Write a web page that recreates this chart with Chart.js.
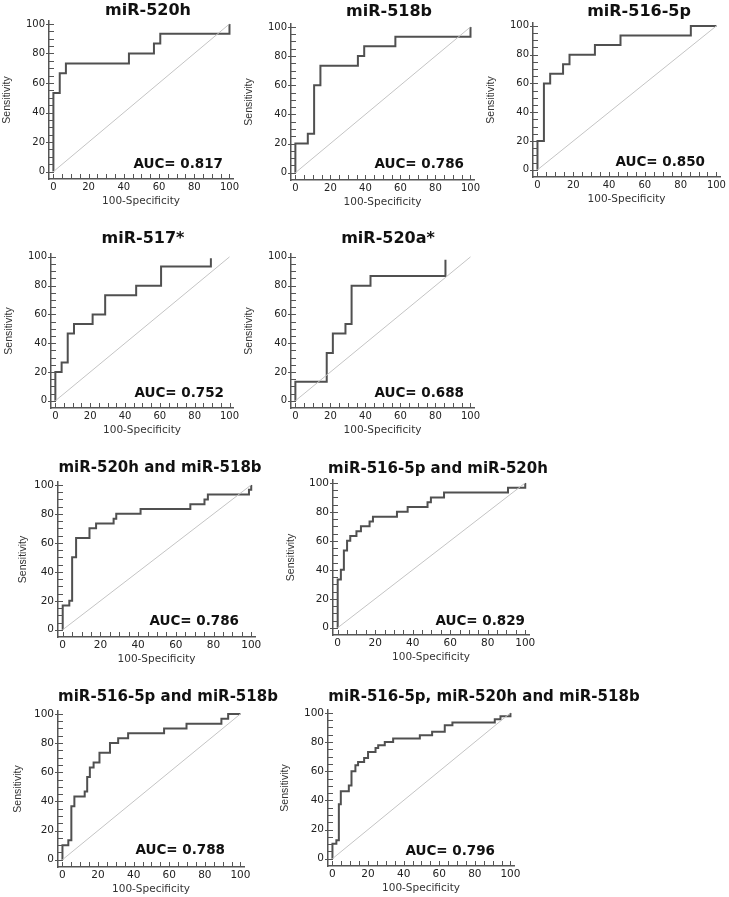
<!DOCTYPE html>
<html>
<head>
<meta charset="utf-8">
<style>
  html, body { margin: 0; padding: 0; background: #fff; overflow: hidden; }
  #page { position: relative; width: 729px; height: 897px; overflow: hidden; }
  #page canvas { position: absolute; }
</style>
</head>
<body>
<div id="page"></div>
<script src="https://cdn.jsdelivr.net/npm/chart.js@4.4.0/dist/chart.umd.min.js"></script>
<script>
// ---- data (100-Specificity, Sensitivity) ----
const tickLabels = [0, 20, 40, 60, 80, 100];
const diagX = [0, 100];
const diagY = [0, 100];

const panelTitles = ["miR-520h", "miR-518b", "miR-516-5p", "miR-517*", "miR-520a*",
  "miR-520h and miR-518b", "miR-516-5p and miR-520h",
  "miR-516-5p and miR-518b", "miR-516-5p, miR-520h and miR-518b"];
const aucLabels = ["AUC= 0.817", "AUC= 0.786", "AUC= 0.850", "AUC= 0.752", "AUC= 0.688",
  "AUC= 0.786", "AUC= 0.829", "AUC= 0.788", "AUC= 0.796"];

const spec520h = [0, 0, 3.6, 7.1, 42.9, 57.1, 60.7, 100];
const sens520h = [0, 53.3, 66.7, 73.3, 80, 86.7, 93.3, 100];

const spec518b = [0, 0, 7.1, 10.7, 14.3, 35.7, 39.3, 57.1, 100];
const sens518b = [0, 20, 26.7, 60, 73.3, 80, 86.7, 93.3, 100];

const spec516 = [0, 0, 3.6, 7.1, 14.3, 17.9, 32.1, 46.4, 85.7, 100];
const sens516 = [0, 20, 60, 66.7, 73.3, 80, 86.7, 93.3, 100, 100];

const spec517 = [0, 0, 3.6, 7.1, 10.7, 21.4, 28.6, 46.4, 60.7, 89.3];
const sens517 = [0, 20, 26.7, 46.7, 53.3, 60, 73.3, 80, 93.3, 99];

const spec520a = [0, 0, 17.9, 21.4, 28.6, 32.1, 42.9, 85.7];
const sens520a = [0, 13.3, 33.3, 46.7, 53.3, 80, 86.7, 98];

const specH18 = [0, 0, 3.5, 5, 7.1, 14.2, 17.7, 27, 28.4, 41.3, 67.7, 75.2, 77, 98.8, 100];
const sensH18 = [0, 16.7, 20, 50, 63.3, 70, 73.3, 76.7, 80, 83.3, 86.7, 90, 93.3, 96.7, 100];

const specS5H = [0, 0, 1.7, 3.3, 5, 6.7, 10, 12.4, 17, 18.8, 31.6, 37.3, 47.9, 49.7, 56.7, 90.8, 100];
const sensS5H = [0, 33.3, 40, 53.3, 60, 63.3, 66.7, 70, 73.3, 76.7, 80, 83.3, 86.7, 90, 93.3, 96.7, 100];

const specS18 = [0, 0, 3.3, 5, 6.7, 12.5, 13.9, 15.4, 17.5, 20.8, 26.7, 31.3, 36.9, 57.1, 69.7, 89.3, 93.1, 100];
const sensS18 = [0, 10, 13.3, 36.7, 43.3, 46.7, 56.7, 63.3, 66.7, 73.3, 80, 83.3, 86.7, 90, 93.3, 96.7, 100, 100];

const specAll = [0, 0, 2.2, 3.6, 4.7, 9.2, 10.7, 12.9, 14.4, 17.8, 20, 24.2, 25.7, 29.4, 34.1, 49.1, 56, 63.1, 67.4, 91.2, 94.4, 100];
const sensAll = [0, 10.3, 12.6, 37.3, 46.2, 50.3, 60, 64.1, 66.4, 69.1, 73.2, 76, 77.8, 80.1, 82.4, 84.7, 87, 91.5, 93.4, 95.7, 97.7, 100];

const curves = [
  [spec520h, sens520h], [spec518b, sens518b], [spec516, sens516],
  [spec517, sens517], [spec520a, sens520a],
  [specH18, sensH18], [specS5H, sensS5H],
  [specS18, sensS18], [specAll, sensAll]
];

// ---- panel frames on the page (axis box, title centre/baseline, AUC right/baseline) ----
const frames = [
  {L: 49,  R: 233, T: 21,  B: 179, tx: 148, ty: 15,  ax: 223, ay: 168, ts: 16, fs: 10,   yp: 2},
  {L: 291, R: 474, T: 24,  B: 180, tx: 389, ty: 16,  ax: 464, ay: 168, ts: 16, fs: 10,   yp: 2},
  {L: 533, R: 720, T: 23,  B: 177, tx: 639, ty: 16,  ax: 705, ay: 166, ts: 16, fs: 10,   yp: 2},
  {L: 51,  R: 233, T: 254, B: 408, tx: 143, ty: 243, ax: 224, ay: 397, ts: 16, fs: 10,   yp: 2},
  {L: 291, R: 474, T: 254, B: 408, tx: 388, ty: 243, ax: 464, ay: 397, ts: 16, fs: 10,   yp: 2},
  {L: 58,  R: 255, T: 482, B: 637, tx: 160, ty: 472, ax: 239, ay: 625, ts: 15, fs: 10.5, yp: 9},
  {L: 333, R: 529, T: 480, B: 635, tx: 438, ty: 473, ax: 525, ay: 625, ts: 15, fs: 10.5, yp: 2},
  {L: 58,  R: 244, T: 711, B: 867, tx: 168, ty: 701, ax: 225, ay: 854, ts: 15, fs: 10.5, yp: 4},
  {L: 328, R: 514, T: 710, B: 866, tx: 484, ty: 701, ax: 495, ay: 855, ts: 15, fs: 10.5, yp: 1}
];

const Y_W = 50, TOP_PAD = 30, X_H = 32;
const AXIS = '#555';

// small inward tick marks, every 5 units
const tickMarks = {
  id: 'tickMarks',
  afterDraw(chart) {
    const {ctx, chartArea: a, scales: {x, y}} = chart;
    ctx.save();
    ctx.strokeStyle = AXIS;
    ctx.lineWidth = 1;
    ctx.beginPath();
    x.ticks.forEach(t => {
      if (t.value < 0 || t.value > 100) return;
      const px = Math.round(x.getPixelForValue(t.value)) + 0.5;
      ctx.moveTo(px, a.bottom);
      ctx.lineTo(px, a.bottom - 5);
    });
    y.ticks.forEach(t => {
      if (t.value < 0 || t.value > 100) return;
      const py = Math.round(y.getPixelForValue(t.value)) + 0.5;
      const out = tickLabels.includes(t.value) ? 3 : 0;
      ctx.moveTo(a.left - out, py);
      ctx.lineTo(a.left + 5, py);
    });
    ctx.stroke();
    ctx.restore();
  }
};

// panel title and AUC label
const panelText = {
  id: 'panelText',
  afterDraw(chart, args, o) {
    const ctx = chart.ctx;
    ctx.save();
    ctx.fillStyle = '#111';
    ctx.textBaseline = 'alphabetic';
    ctx.font = 'bold ' + o.ts + 'px "DejaVu Sans"';
    ctx.textAlign = 'center';
    ctx.fillText(o.title, o.tx, o.ty);
    ctx.font = 'bold 13.5px "DejaVu Sans"';
    ctx.textAlign = 'right';
    ctx.fillText(o.auc, o.ax, o.ay);
    ctx.restore();
  }
};

const page = document.getElementById('page');

frames.forEach((f, i) => {
  const left = f.L - Y_W;
  const top = f.T - TOP_PAD;
  const width = Math.max(f.R + 16, f.tx + 170) - left;
  const height = f.B + X_H - top;
  const cv = document.createElement('canvas');
  cv.width = width; cv.height = height;
  cv.style.left = left + 'px'; cv.style.top = top + 'px';
  cv.style.width = width + 'px'; cv.style.height = height + 'px';
  page.appendChild(cv);

  const [sx, sy] = curves[i];
  const tickFont = {family: 'DejaVu Sans', size: f.fs};
  const axisTicks = {
    stepSize: 5, maxTicksLimit: 40, includeBounds: false, autoSkip: false,
    maxRotation: 0, color: '#222', font: tickFont,
    callback: v => tickLabels.includes(v) ? String(v) : ''
  };

  new Chart(cv, {
    type: 'scatter',
    data: {
      datasets: [
        {data: diagX.map((v, k) => ({x: v, y: diagY[k]})), showLine: true,
         borderColor: '#c4c4c4', borderWidth: 1, pointRadius: 0},
        {data: sx.map((v, k) => ({x: v, y: sy[k]})), showLine: true, stepped: 'before',
         borderColor: '#505050', borderWidth: 2, pointRadius: 0}
      ]
    },
    options: {
      responsive: false,
      animation: false,
      events: [],
      layout: {padding: {left: 0, top: TOP_PAD, right: width - Y_W - (f.R - f.L), bottom: 0}},
      plugins: {
        legend: {display: false},
        tooltip: {enabled: false},
        panelText: {title: panelTitles[i], auc: aucLabels[i], ts: f.ts,
          tx: f.tx - left, ty: f.ty - top, ax: f.ax - left, ay: f.ay - top}
      },
      scales: {
        x: {
          type: 'linear', min: -2.5, max: 102,
          afterFit: s => { s.height = X_H; },
          grid: {display: false, drawTicks: false},
          border: {color: AXIS, width: 1.5},
          ticks: Object.assign({padding: 2}, axisTicks),
          title: {display: true, text: '100-Specificity', color: '#333',
            font: {family: 'DejaVu Sans', size: 10.5}, padding: {top: 0, bottom: 3}}
        },
        y: {
          type: 'linear', min: -5, max: 102,
          afterFit: s => { s.width = Y_W; },
          grid: {display: false, drawTicks: false},
          border: {color: AXIS, width: 1.5},
          ticks: Object.assign({padding: 4}, axisTicks),
          title: {display: true, text: 'Sensitivity', color: '#333',
            font: {family: 'Liberation Sans', size: 10.5}, padding: {top: f.yp, bottom: 0}}
        }
      }
    },
    plugins: [tickMarks, panelText]
  });
});
</script>
</body>
</html>
